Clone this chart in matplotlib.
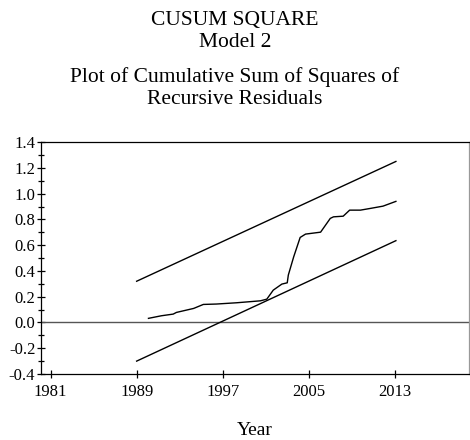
import numpy as np
import matplotlib.pyplot as plt
from matplotlib.ticker import MultipleLocator

plt.rcParams['font.family'] = ['Liberation Serif', 'DejaVu Serif']

# CUSUM of squares
cusum_year = [1990.1, 1991.3, 1992.4, 1992.7, 1994.3, 1995.2, 1996.4, 1998.3,
              2000.5, 2001.1, 2001.7, 2002.5, 2003.0, 2003.1, 2003.6, 2004.2,
              2004.7, 2006.1, 2007.0, 2007.3, 2008.2, 2008.8, 2009.8, 2010.7,
              2011.9, 2013.1]
cusum_val = [0.032, 0.052, 0.065, 0.078, 0.109, 0.140, 0.143, 0.153,
             0.168, 0.181, 0.251, 0.298, 0.308, 0.368, 0.51, 0.66,
             0.686, 0.701, 0.808, 0.820, 0.825, 0.872, 0.872, 0.885,
             0.903, 0.94]

# 5% significance bounds
bound_year = [1989.0, 2013.1]
upper = [0.32, 1.25]
lower = [-0.30, 0.635]

xticks = [1981, 1989, 1997, 2005, 2013]

fig = plt.figure(figsize=(4.7, 4.4), dpi=100)
ax = fig.add_axes([0.087, 0.15, 0.911, 0.527])

ax.axhline(0, color='#555555', lw=1.0)
ax.plot(bound_year, upper, color='black', lw=1.0)
ax.plot(bound_year, lower, color='black', lw=1.0)
ax.plot(cusum_year, cusum_val, color='black', lw=1.0)

ax.set_xlim(1980.1, 2019.9)
ax.set_ylim(-0.4, 1.4)
ax.set_xticks(xticks)
ax.yaxis.set_major_locator(MultipleLocator(0.2))
ax.yaxis.set_minor_locator(MultipleLocator(0.1))
ax.yaxis.set_major_formatter(plt.FormatStrFormatter('%.1f'))
ax.tick_params(axis='both', direction='inout', length=6, width=0.9,
               labelsize=12, colors='black', pad=1)
ax.tick_params(axis='y', which='minor', direction='inout', length=5, width=0.9)
ax.tick_params(axis='x', pad=4)
for s in ax.spines.values():
    s.set_linewidth(0.9)
ax.spines['right'].set_color('#999999')

ax.set_xlabel('Year', fontsize=14, labelpad=16)

fig.text(0.5, 0.954, 'CUSUM SQUARE', ha='center', va='center', fontsize=15.5)
fig.text(0.5, 0.903, 'Model 2', ha='center', va='center', fontsize=15.5)
fig.text(0.5, 0.826, 'Plot of Cumulative Sum of Squares of', ha='center', va='center', fontsize=15.5)
fig.text(0.5, 0.775, 'Recursive Residuals', ha='center', va='center', fontsize=15.5)

fig.savefig('out.png', dpi=100)
